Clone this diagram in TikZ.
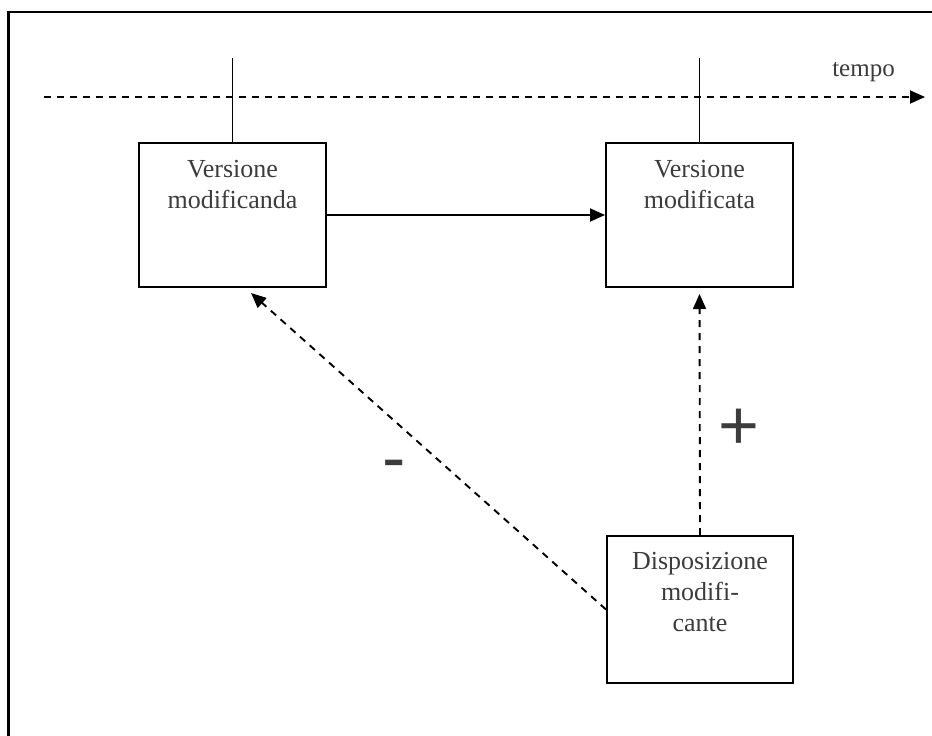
\documentclass[tikz,border=0pt]{standalone}
\usepackage{fontspec}
\setmainfont{Liberation Serif}
\newfontfamily\signfont{Liberation Sans}
\usetikzlibrary{arrows.meta}
\definecolor{inkgray}{HTML}{3C3C3C}
\begin{document}
\begin{tikzpicture}[x=1pt,y=-1pt,
  stagebox/.style={draw, line width=2pt, minimum width=187pt, minimum height=144pt, inner sep=0pt},
  boxtext/.style={anchor=north, inner sep=0pt, align=center, text=inkgray,
    font=\fontsize{26}{31}\selectfont},
  link/.style={line width=1.9pt, -{Triangle[length=15pt,width=13pt]}},
  dashedlink/.style={link, dash pattern=on 7pt off 6pt},
  sign/.style={anchor=base, inner sep=0pt, text=inkgray, font=\signfont\fontsize{70}{70}\selectfont}]
  \useasboundingbox (0,0) rectangle (932,736);
  \clip (0,0) rectangle (932,736);

  % outer frame, running past the right and lower edges
  \draw[line width=2.8pt] (8.5,12) rectangle (960,760);

  % time axis
  \coordinate (tstart) at (44,97);
  \coordinate (tend) at (925,97);
  \draw[dashedlink] (tstart) -- (tend);
  \node[anchor=base, inner sep=0pt, text=inkgray, font=\fontsize{25}{30}\selectfont] (tempo) at (863.5,76) {tempo};

  % versions and the amending provision
  \node[stagebox] (v1) at (232.5,215) {};
  \node[stagebox] (v2) at (699.5,215) {};
  \node[stagebox, minimum width=186pt, minimum height=147pt] (v3) at (700,609.5) {};

  \node[boxtext] (v1t) at ([yshift=-18pt]v1.north) {Versione\\modificanda};
  \node[boxtext] (v2t) at ([yshift=-18pt]v2.north) {Versione\\modificata};
  \node[boxtext] (v3t) at ([yshift=-17pt]v3.north) {Disposizione\\modifi-\\cante};

  % ticks tying each version to the time axis
  \coordinate (tick1) at (232.5,58);
  \coordinate (tick2) at (699.5,58);
  \draw[line width=1.9pt] (tick1) -- (v1.north);
  \draw[line width=1.9pt] (tick2) -- (v2.north);

  % transitions
  \draw[link] (v1.east) -- (v2.west);
  \draw[dashedlink, shorten >=6pt] (v3.north) -- (v2.south);
  \coordinate (dtip) at (251,293);
  \draw[dashedlink] (v3.west) -- (dtip);

  \node[sign] (minus) at (394.5,481) {-};
  \node[sign] (plus) at (739,449) {+};
\end{tikzpicture}
\end{document}
